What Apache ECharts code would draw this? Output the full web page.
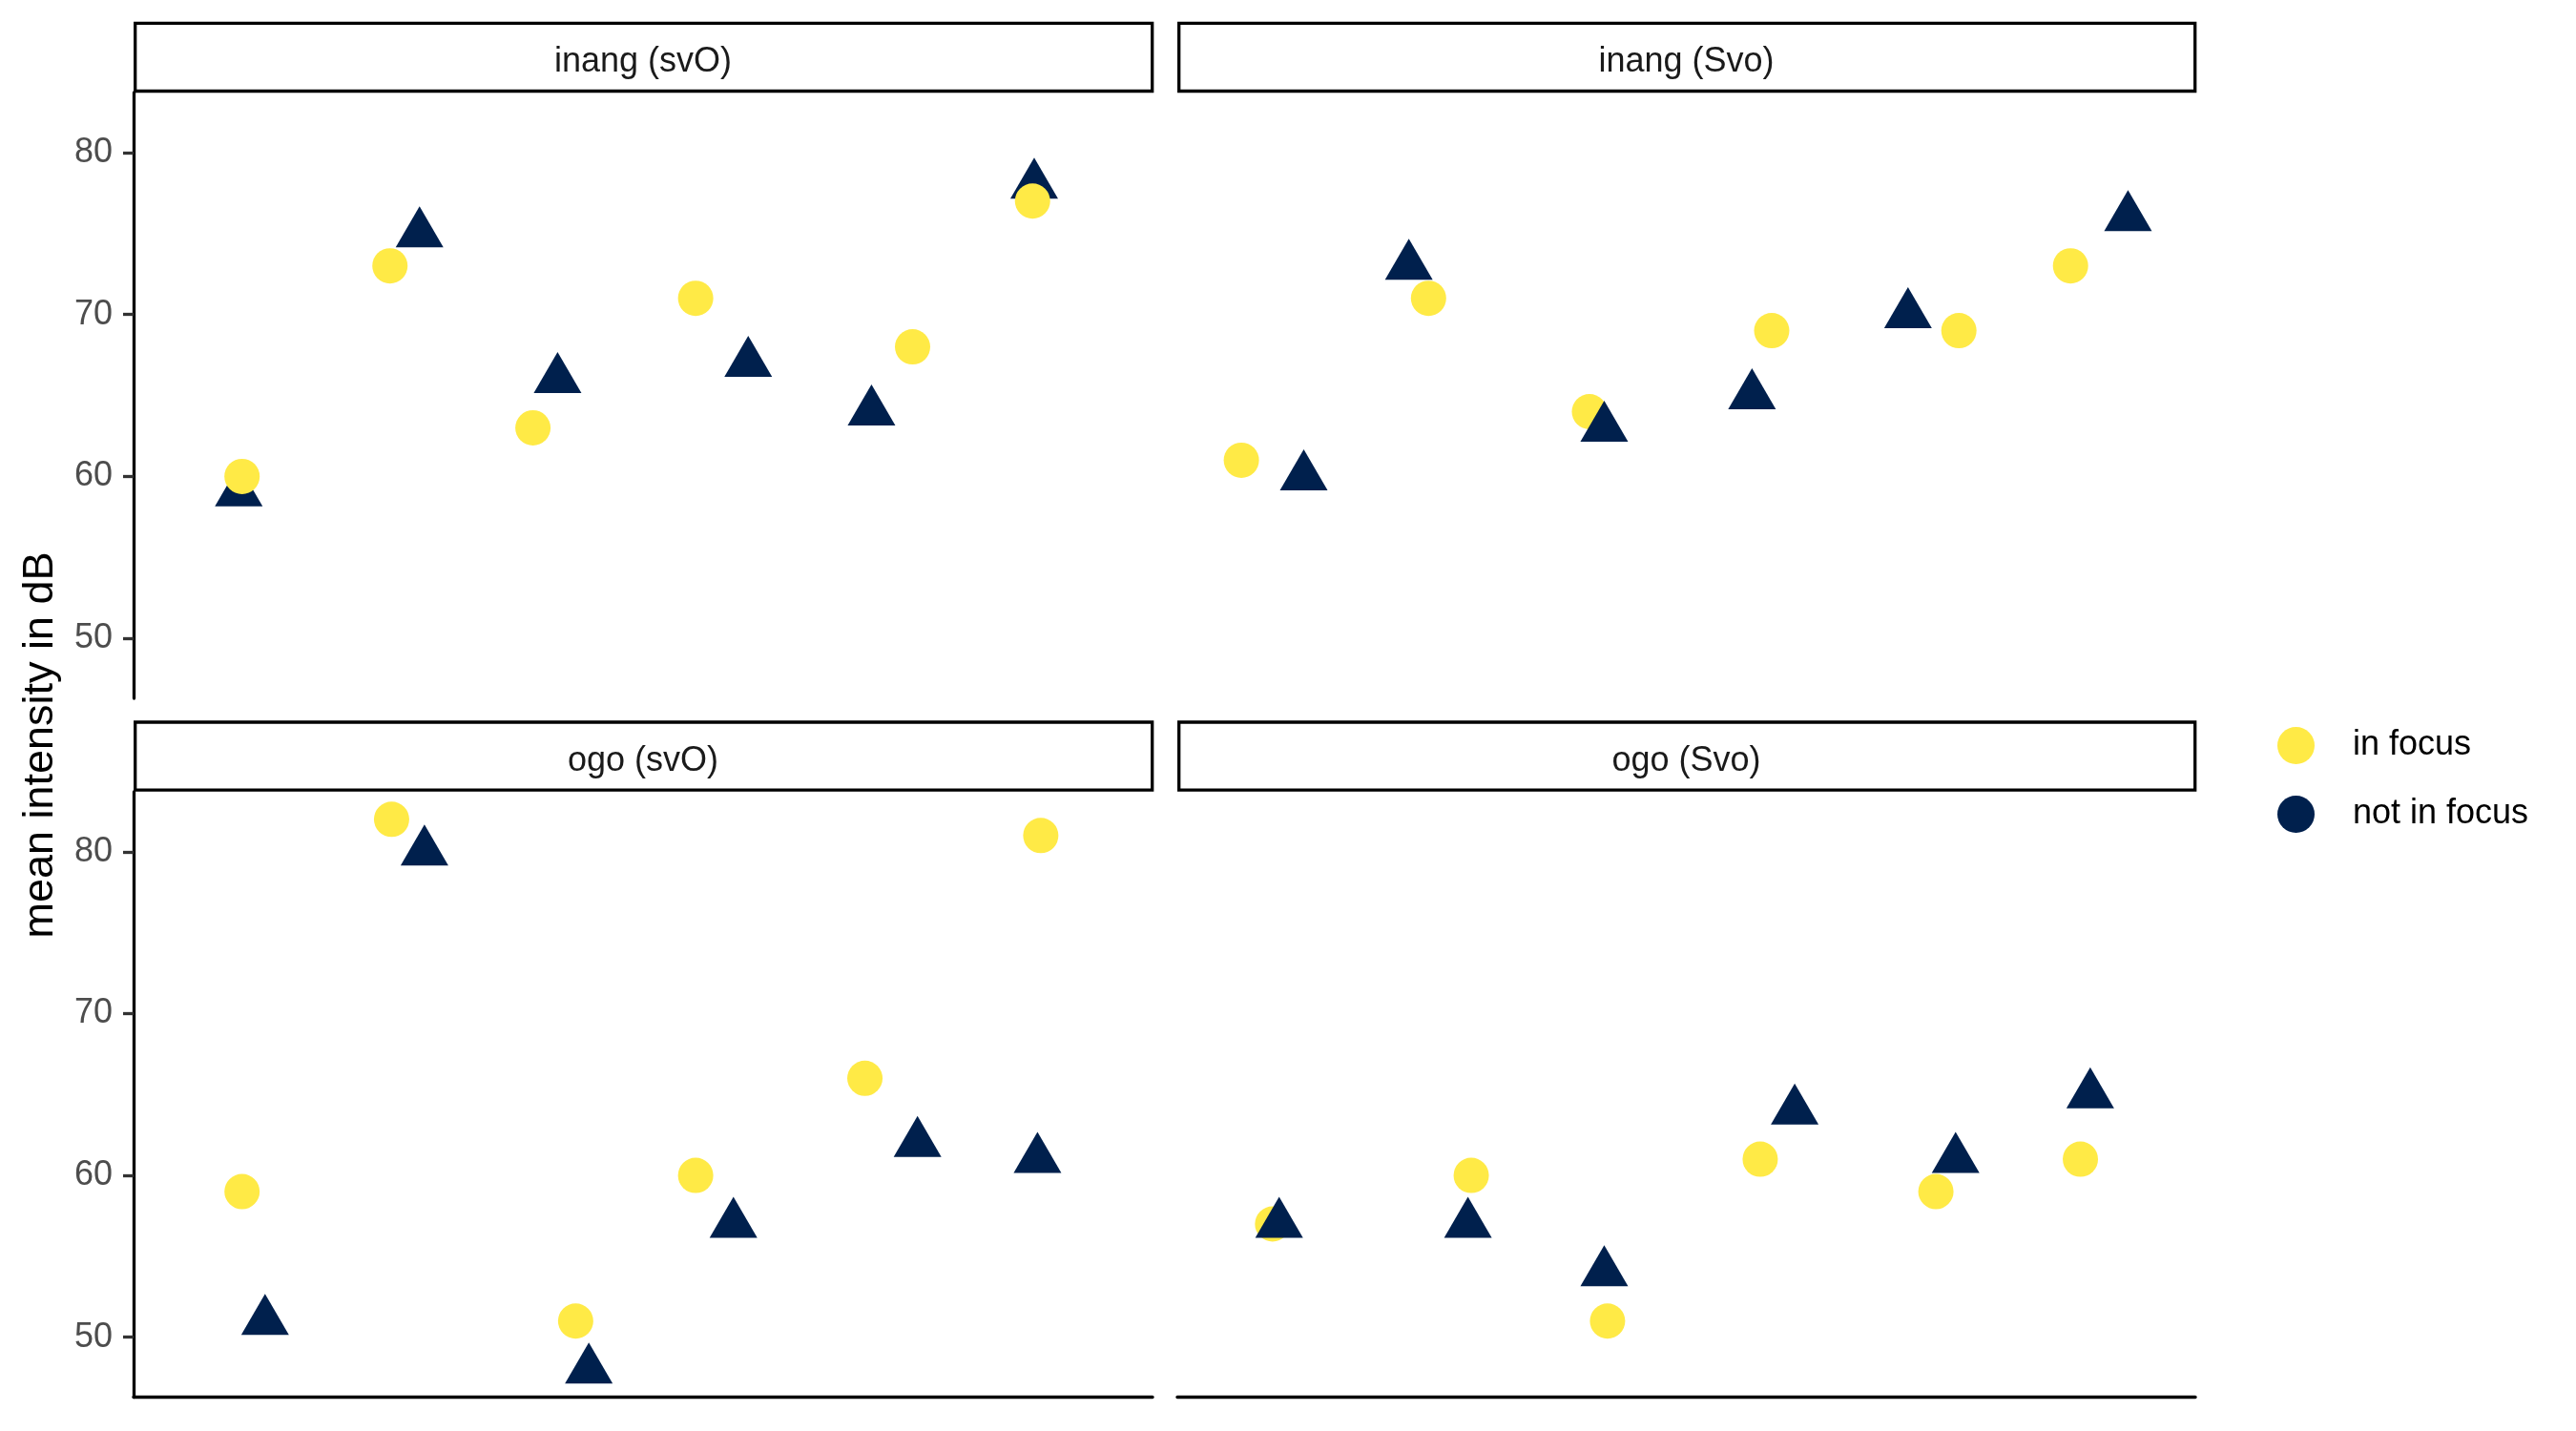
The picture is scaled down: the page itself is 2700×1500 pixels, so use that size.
<!DOCTYPE html>
<html>
<head>
<meta charset="utf-8">
<script src="https://cdn.jsdelivr.net/npm/echarts@6/dist/echarts.min.js"></script>
<style>html,body{margin:0;padding:0;background:#fff}#c{width:2700px;height:1500px}</style>
</head>
<body>
<div id="c"></div>
<script>
// Facet titles
const panelTitles = ['inang (svO)', 'inang (Svo)', 'ogo (svO)', 'ogo (Svo)'];
const yTicks = [50, 60, 70, 80];
const seriesNames = ['in focus', 'not in focus'];

// mean intensity (dB) and jittered x positions (category index + jitter), per panel
const inangSvO_inFocusX = [1.06, 1.96, 2.83, 3.82, 5.14, 5.87];
const inangSvO_inFocusY = [60, 73, 63, 71, 68, 77];
const inangSvO_notFocusX = [1.04, 2.14, 2.98, 4.14, 4.89, 5.88];
const inangSvO_notFocusY = [59, 75, 66, 67, 64, 78];

const inangSvo_inFocusX = [0.79, 1.93, 2.91, 4.02, 5.16, 5.84];
const inangSvo_inFocusY = [61, 71, 64, 69, 69, 73];
const inangSvo_notFocusX = [1.17, 1.81, 3.00, 3.90, 4.85, 6.19];
const inangSvo_notFocusY = [60, 73, 63, 65, 70, 76];

const ogoSvO_inFocusX = [1.06, 1.97, 3.09, 3.82, 4.85, 5.92];
const ogoSvO_inFocusY = [59, 82, 51, 60, 66, 81];
const ogoSvO_notFocusX = [1.20, 2.17, 3.17, 4.05, 5.17, 5.90];
const ogoSvO_notFocusY = [51, 80, 48, 57, 62, 61];

const ogoSvo_inFocusX = [0.98, 2.19, 3.02, 3.95, 5.02, 5.90];
const ogoSvo_inFocusY = [57, 60, 51, 61, 59, 61];
const ogoSvo_notFocusX = [1.02, 2.17, 3.00, 4.16, 5.14, 5.96];
const ogoSvo_notFocusY = [57, 57, 54, 64, 61, 65];

const panelData = [
  [inangSvO_inFocusX, inangSvO_inFocusY, inangSvO_notFocusX, inangSvO_notFocusY],
  [inangSvo_inFocusX, inangSvo_inFocusY, inangSvo_notFocusX, inangSvo_notFocusY],
  [ogoSvO_inFocusX, ogoSvO_inFocusY, ogoSvO_notFocusX, ogoSvO_notFocusY],
  [ogoSvo_inFocusX, ogoSvo_inFocusY, ogoSvo_notFocusX, ogoSvo_notFocusY]
];
// draw triangles above circles in these panels
const trianglesOnTop = [false, true, true, true];

const YELLOW = '#FFEA46', NAVY = '#00204D';
const FONT = 'Liberation Sans, Arial, sans-serif';
const LW = 3.3;

const grids = [
  {left: 140, top: 97, width: 1068, height: 635},
  {left: 1234, top: 97, width: 1067, height: 635},
  {left: 140, top: 830, width: 1068, height: 634.5},
  {left: 1234, top: 830, width: 1067, height: 634.5}
];

const xAxes = [], yAxes = [], series = [], graphics = [];
grids.forEach((g, i) => {
  const bottomRow = i >= 2, leftCol = i % 2 === 0;
  xAxes.push({
    type: 'value', gridIndex: i, min: 0.4, max: 6.6,
    axisLine: {show: bottomRow, onZero: false, lineStyle: {color: '#000', width: LW}},
    axisTick: {show: false}, axisLabel: {show: false}, splitLine: {show: false}
  });
  yAxes.push({
    type: 'value', gridIndex: i, min: 46.3, max: 83.7,
    axisLine: {show: leftCol, onZero: false, lineStyle: {color: '#000', width: LW}},
    axisTick: {show: leftCol, customValues: yTicks, length: 11, lineStyle: {color: '#333', width: LW}},
    axisLabel: {show: leftCol, customValues: yTicks, margin: 22, padding: [5, 0, 0, 0], color: '#4D4D4D', fontSize: 36, fontFamily: FONT},
    splitLine: {show: false}
  });
  const d = panelData[i];
  const circ = {
    name: seriesNames[0], type: 'scatter', xAxisIndex: i, yAxisIndex: i,
    symbol: 'circle', symbolSize: 37, itemStyle: {color: YELLOW, opacity: 1},
    data: d[0].map((x, k) => [x, d[1][k]]), z: trianglesOnTop[i] ? 2 : 3
  };
  const tri = {
    name: seriesNames[1], type: 'scatter', xAxisIndex: i, yAxisIndex: i,
    symbol: 'triangle', symbolSize: [50, 43], symbolOffset: [0, -7],
    itemStyle: {color: NAVY, opacity: 1},
    data: d[2].map((x, k) => [x, d[3][k]]), z: trianglesOnTop[i] ? 3 : 2
  };
  if (trianglesOnTop[i]) series.push(circ, tri); else series.push(tri, circ);

  const stripTop = i < 2 ? 24.3 : 757;
  graphics.push({
    type: 'rect', shape: {x: g.left + 1.7, y: stripTop, width: g.width - 2, height: 71.2},
    style: {fill: '#fff', stroke: '#000', lineWidth: LW}, z: 10
  });
  graphics.push({
    type: 'text', x: g.left + g.width / 2, y: stripTop + 41,
    style: {text: panelTitles[i], fill: '#1A1A1A', font: '36px ' + FONT, align: 'center', verticalAlign: 'middle'}, z: 11
  });
});

graphics.push({
  type: 'text', x: 43, y: 781, rotation: Math.PI / 2,
  style: {text: 'mean intensity in dB', fill: '#000', font: '45px ' + FONT, align: 'center', verticalAlign: 'middle'}, z: 11
});

const chart = echarts.init(document.getElementById('c'), null, {renderer: 'canvas'});
chart.setOption({
  backgroundColor: '#fff',
  animation: false,
  grid: grids,
  xAxis: xAxes,
  yAxis: yAxes,
  legend: {
    orient: 'vertical', left: 2382, top: 757, itemWidth: 39, itemHeight: 39, itemGap: 33,
    textStyle: {fontSize: 36, color: '#000', fontFamily: FONT, padding: [4, 0, 0, 35]},
    data: [{name: seriesNames[0], icon: 'circle'}, {name: seriesNames[1], icon: 'circle'}],
    selectedMode: false
  },
  graphic: graphics,
  series: series
});
</script>
</body>
</html>
